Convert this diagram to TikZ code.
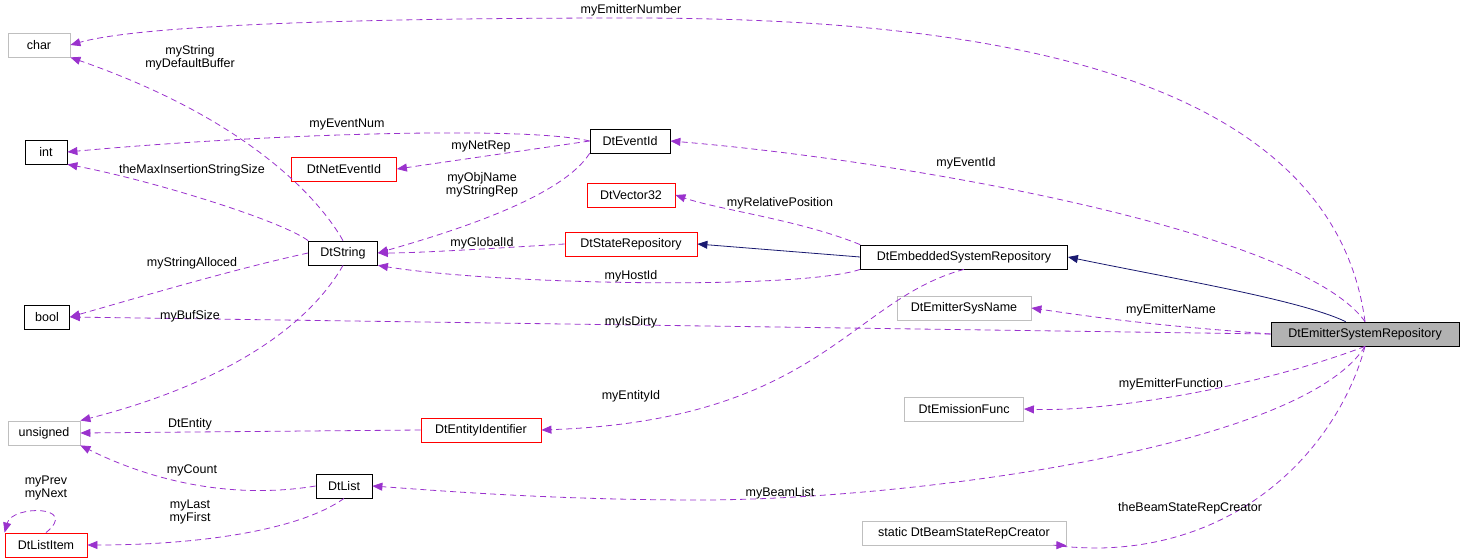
\documentclass[tikz,border=0pt]{standalone}
\usepackage{fontspec}
\setmainfont{Liberation Sans}
\usetikzlibrary{arrows.meta}
\definecolor{usepurple}{RGB}{154,50,205}
\definecolor{inhnavy}{RGB}{25,25,112}

\tikzset{
  cls/.style={draw=black, fill=white, line width=0.8pt, inner xsep=4pt, minimum height=24pt, font=\fontsize{12.5}{14}\selectfont},
  ext/.style={cls, draw=gray!50},
  red cls/.style={cls, draw=red},
  use/.style={draw=usepurple, line width=0.8pt, dash pattern=on 6pt off 4pt, -{Triangle[length=10pt,width=8pt]}},
  inh/.style={draw=inhnavy, line width=0.8pt, -{Triangle[length=10pt,width=8pt]}},
  lbl/.style={font=\fontsize{12.5}{13}\selectfont, align=center, inner sep=0pt}
}

\begin{document}
\begin{tikzpicture}[x=1pt,y=-1pt]
\useasboundingbox (0,0) rectangle (1464,559);
% classes
\node [ext, minimum width=62pt] (char) at (39,45) {char};
\node [cls, minimum width=42pt] (int) at (46,152) {int};
\node [cls, minimum width=45pt] (bool) at (47,317) {bool};
\node [ext, minimum width=72pt] (unsigned) at (44,433) {unsigned};
\node [red cls, minimum width=82pt] (listitem) at (46,545) {DtListItem};
\node [red cls, minimum width=105pt] (netevent) at (344,169) {DtNetEventId};
\node [cls, minimum width=80pt] (eventid) at (630,141) {DtEventId};
\node [red cls, minimum width=88pt] (vector) at (631,195) {DtVector32};
\node [red cls, minimum width=132pt] (staterep) at (631,244) {DtStateRepository};
\node [cls, minimum width=69pt] (string) at (343,253) {DtString};
\node [cls, minimum width=207pt] (embedded) at (964,257) {DtEmbeddedSystemRepository};
\node [ext, minimum width=134pt] (sysname) at (964,308) {DtEmitterSysName};
\node [cls, fill=gray!60, minimum width=188pt] (emitter) at (1365,334) {DtEmitterSystemRepository};
\node [ext, minimum width=119pt] (emission) at (964,409) {DtEmissionFunc};
\node [red cls, minimum width=120pt] (entity) at (481,430) {DtEntityIdentifier};
\node [cls, minimum width=56pt] (list) at (344,486) {DtList};
\node [ext, minimum width=204pt] (creator) at (964,533) {static DtBeamStateRepCreator};

% inheritance
\draw [inh] (emitter.north west) ++(75,0) .. controls (1300,300) and (1180,280) .. (embedded.east);
\draw [inh] (embedded.west) -- (staterep.east);

% usage
\draw [use] (emitter.north) .. controls (1330,60) and (950,18) .. (631,18) .. controls (300,18) and (130,28) .. (char.east);
\draw [use] (string.north) .. controls (320,200) and (250,120) .. (char.south east);
\draw [use] (eventid.west) .. controls (520,125) and (250,135) .. (int.east);
\draw [use] (eventid.west) -- (netevent.east);
\draw [use] (string.north west) .. controls (280,220) and (150,180) .. (int.south east);
\draw [use] (eventid.south west) .. controls (560,200) and (440,235) .. (string.east);
\draw [use] (emitter.north) .. controls (1300,230) and (900,160) .. (eventid.east);
\draw [use] (embedded.north west) .. controls (800,220) and (720,210) .. (vector.east);
\draw [use] (staterep.west) .. controls (500,248) and (420,253) .. (string.east);
\draw [use] (embedded.south west) .. controls (800,290) and (500,285) .. (string.south east);
\draw [use] (string.west) .. controls (230,270) and (130,300) .. (bool.east);
\draw [use] (string.south) .. controls (300,340) and (200,390) .. (unsigned.north east);
\draw [use] (emitter.west) -- (bool.east);
\draw [use] (emitter.west) .. controls (1150,325) and (1100,318) .. (sysname.east);
\draw [use] (embedded.south) .. controls (850,300) and (820,420) .. (entity.east);
\draw [use] (emitter.south) .. controls (1250,390) and (1100,412) .. (emission.east);
\draw [use] (entity.west) -- (unsigned.east);
\draw [use] (list.west) .. controls (230,500) and (150,480) .. (unsigned.south east);
\draw [use] (emitter.south) .. controls (1300,450) and (900,500) .. (700,500) .. controls (550,500) and (430,490) .. (list.east);
\draw [use] (list.south) .. controls (300,530) and (200,545) .. (listitem.east);
\draw [use] (listitem.north) .. controls (80,505) and (12,505) .. (listitem.north west);
\draw [use] (emitter.south) .. controls (1340,440) and (1250,545) .. (1100,548) .. controls (1070,548) and (1050,545) .. (creator.south east);

% labels
\node [lbl] (l1) at (631,10) {myEmitterNumber};
\node [lbl] (l2) at (190,58) {myString\\myDefaultBuffer};
\node [lbl] (l3) at (347,124) {myEventNum};
\node [lbl] (l4) at (481,146) {myNetRep};
\node [lbl] (l5) at (192,170) {theMaxInsertionStringSize};
\node [lbl] (l6) at (482,185) {myObjName\\myStringRep};
\node [lbl] (l7) at (966,163) {myEventId};
\node [lbl] (l8) at (780,203) {myRelativePosition};
\node [lbl] (l9) at (482,243) {myGlobalId};
\node [lbl] (l10) at (631,276) {myHostId};
\node [lbl] (l11) at (192,263) {myStringAlloced};
\node [lbl] (l12) at (190,316) {myBufSize};
\node [lbl] (l13) at (631,322) {myIsDirty};
\node [lbl] (l14) at (1171,310) {myEmitterName};
\node [lbl] (l15) at (631,396) {myEntityId};
\node [lbl] (l16) at (1171,384) {myEmitterFunction};
\node [lbl] (l17) at (190,424) {DtEntity};
\node [lbl] (l18) at (192,470) {myCount};
\node [lbl] (l19) at (780,493) {myBeamList};
\node [lbl] (l20) at (190,512) {myLast\\myFirst};
\node [lbl] (l21) at (46,488) {myPrev\\myNext};
\node [lbl] (l22) at (1190,508) {theBeamStateRepCreator};
\end{tikzpicture}
\end{document}
